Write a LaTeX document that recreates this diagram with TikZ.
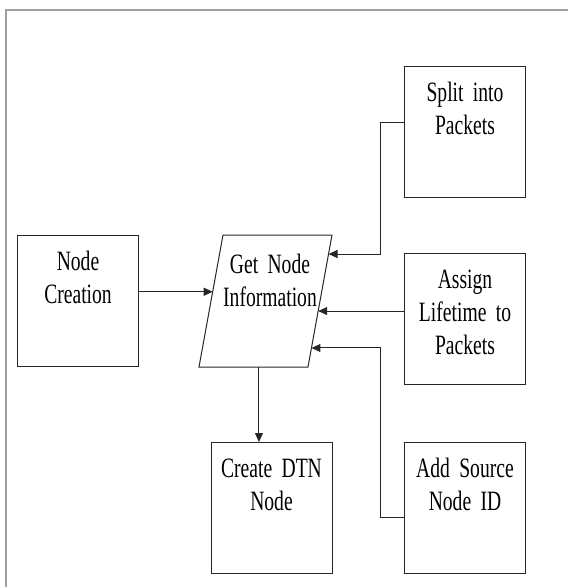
\documentclass[tikz,border=0pt]{standalone}
\usepackage{fontspec}
\setmainfont{Liberation Serif}[FakeStretch=0.7,WordSpace=0.75]
\usetikzlibrary{arrows.meta,calc}

\begin{document}
\begin{tikzpicture}[x=1pt,y=-1pt,font=\fontsize{28}{33}\selectfont,
  box/.style={draw=black!85, line width=1pt, anchor=north, align=center,
    text width=121pt, inner xsep=0pt, inner ysep=0pt,
    text height=35pt, text depth=96pt},
  flow/.style={draw=black!85, line width=1pt, -{Triangle[length=9pt,width=8pt]}}]
  \useasboundingbox (0,0) rectangle (568,587);
  % open frame (top and left only)
  \draw[gray!75, line width=2pt] (6,587) -- (6,10) -- (568,10);

  % boxes
  \node[box] (nodecr) at (78,235) {Node\\Creation};
  \node[box] (split) at (465,66) {Split into\\Packets};
  \node[box] (assign) at (465,253) {Assign\\Lifetime to\\Packets};
  \node[box] (dtn) at (271.5,442) {Create DTN\\Node};
  \node[box] (addsrc) at (465,442) {Add Source\\Node ID};

  % parallelogram
  \coordinate (pTL) at (223,235);
  \coordinate (pTR) at (332,235);
  \coordinate (pBR) at (308,367);
  \coordinate (pBL) at (199,367);
  \draw[draw=black!85, line width=1pt] (pTL) -- (pTR) -- (pBR) -- (pBL) -- cycle;
  \node[anchor=north, align=center, text width=110pt, inner sep=0pt,
    text height=38pt, text depth=0pt] (info) at (270,235) {Get Node\\Information};

  % points on the parallelogram edges
  \coordinate (inL) at ($(pTL)!0.43!(pBL)$);
  \coordinate (inA) at ($(pTR)!0.144!(pBR)$);
  \coordinate (inB) at ($(pTR)!0.576!(pBR)$);
  \coordinate (inC) at ($(pTR)!0.856!(pBR)$);
  \coordinate (outB) at ($(pBL)!0.55!(pBR)$);

  % connectors
  \draw[flow] (inL -| nodecr.east) -- (inL);
  \draw[flow] ($(split.north west)!0.427!(split.south west)$) -- ++(-24,0) |- (inA);
  \draw[flow] (inB -| assign.west) -- (inB);
  \draw[flow] ($(addsrc.north west)!0.57!(addsrc.south west)$) -- ++(-24,0) |- (inC);
  \draw[flow] (outB) -- (outB |- dtn.north);
\end{tikzpicture}
\end{document}
